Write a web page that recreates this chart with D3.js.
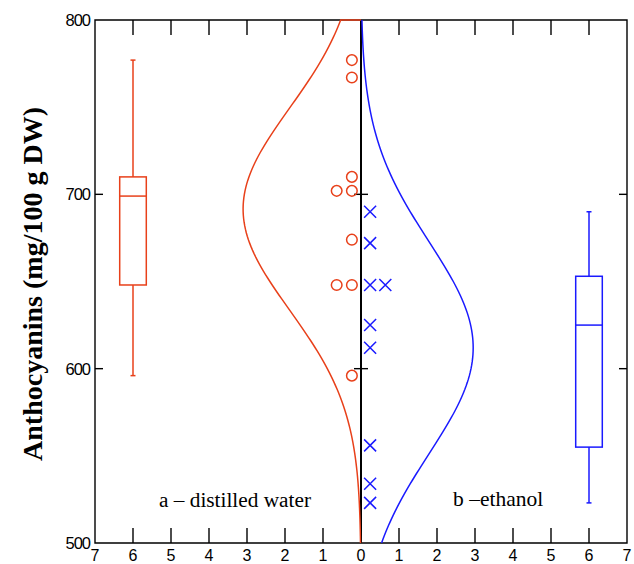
<!DOCTYPE html>
<html>
<head>
<meta charset="utf-8">
<script src="https://cdn.jsdelivr.net/npm/d3@7"></script>
<style>
  body { margin: 0; background: #fff; }
  svg { display: block; }
</style>
</head>
<body>
<svg class="chart" width="634" height="564"></svg>
<script>
// observed values (mg/100 g DW)
const waterValues = [777, 767, 710, 702, 702, 674, 648, 648, 596]
const ethanolValues = [690, 672, 648, 648, 625, 612, 556, 534, 523]

// box stats: [min, q1, median, q3, max]
const waterBox = [596, 648, 699, 710, 777]
const ethanolBox = [523, 555, 625, 653, 690]

const xTickValues = [-7, -6, -5, -4, -3, -2, -1, 0, 1, 2, 3, 4, 5, 6, 7]
const yTickValues = [500, 600, 700, 800]

const red = '#e8401a'
const blue = '#1a1aff'

const margin = { left: 95, right: 7, top: 20, bottom: 21 }
const width = 634
const height = 564

const x = d3.scaleLinear().domain([-7, 7]).range([margin.left, width - margin.right])
const y = d3.scaleLinear().domain([500, 800]).range([height - margin.bottom, margin.top])

const svg = d3.select('.chart')

/**
 * Fitted normal curve, scaled as counts per 50-unit bin
 *
 * @param {number[]} values the observations
 * @returns {number[][]} [value, height] pairs
 */
function normalCurve (values) {
  const mean = d3.mean(values)
  const sd = d3.deviation(values)
  const k = values.length * 50 / (sd * Math.sqrt(2 * Math.PI))
  return d3.range(500, 800.5, 2).map(function (v) {
    return [v, k * Math.exp(-0.5 * ((v - mean) / sd) ** 2)]
  })
}

// axes frame
const frame = svg.append('g').attr('stroke', 'black').attr('stroke-width', 1.4).attr('fill', 'none')
frame.append('path')
  .attr('d', `M${x(-7)},${y(800)}H${x(7)}V${y(500)}H${x(-7)}Z`)
frame.append('line')
  .attr('x1', x(0)).attr('x2', x(0))
  .attr('y1', y(800)).attr('y2', y(500))
  .attr('stroke-width', 2)

// x ticks, inward from top and bottom
const inner = xTickValues.filter(d => Math.abs(d) < 7 && d !== 0)
frame.selectAll('.xt-top').data(inner).enter().append('line')
  .attr('x1', d => x(d)).attr('x2', d => x(d))
  .attr('y1', y(800)).attr('y2', y(800) + 15)
frame.selectAll('.xt-bot').data(inner).enter().append('line')
  .attr('x1', d => x(d)).attr('x2', d => x(d))
  .attr('y1', y(500)).attr('y2', y(500) - 15)

// y ticks: left, right and across the centre line
const yInner = [600, 700]
frame.selectAll('.yt-l').data(yInner).enter().append('line')
  .attr('x1', x(-7)).attr('x2', x(-7) + 8)
  .attr('y1', d => y(d)).attr('y2', d => y(d))
frame.selectAll('.yt-r').data(yInner).enter().append('line')
  .attr('x1', x(7)).attr('x2', x(7) - 8)
  .attr('y1', d => y(d)).attr('y2', d => y(d))
frame.selectAll('.yt-c').data(yInner).enter().append('line')
  .attr('x1', x(0) - 7).attr('x2', x(0) + 7)
  .attr('y1', d => y(d)).attr('y2', d => y(d))

// curves
const waterCurve = normalCurve(waterValues)
waterCurve.push([800, 0])
svg.append('path')
  .datum(waterCurve)
  .attr('fill', 'none')
  .attr('stroke', red)
  .attr('stroke-width', 1.5)
  .attr('d', d3.line().x(d => x(-d[1])).y(d => y(d[0])))

svg.append('path')
  .datum(normalCurve(ethanolValues))
  .attr('fill', 'none')
  .attr('stroke', blue)
  .attr('stroke-width', 1.5)
  .attr('d', d3.line().x(d => x(d[1])).y(d => y(d[0])))

// tick labels
svg.append('g').selectAll('text').data(xTickValues).enter().append('text')
  .attr('x', d => x(d))
  .attr('y', height - 3)
  .attr('text-anchor', 'middle')
  .attr('font-family', 'Liberation Sans, Arial, sans-serif')
  .attr('font-size', 16)
  .text(d => Math.abs(d))

svg.append('g').selectAll('text').data(yTickValues).enter().append('text')
  .attr('x', x(-7) - 5)
  .attr('y', d => y(d) + 6)
  .attr('text-anchor', 'end')
  .attr('font-family', 'Liberation Sans, Arial, sans-serif')
  .attr('font-size', 16.5)
  .attr('letter-spacing', -1)
  .text(d => d)

svg.append('text')
  .attr('transform', 'translate(42,284) rotate(-90)')
  .attr('text-anchor', 'middle')
  .attr('font-family', 'Liberation Serif, Times New Roman, serif')
  .attr('font-weight', 'bold')
  .attr('font-size', 28)
  .text('Anthocyanins (mg/100 g DW)')

svg.append('text')
  .attr('x', 159).attr('y', 507)
  .attr('font-family', 'Liberation Serif, Times New Roman, serif')
  .attr('font-size', 21.3)
  .text('a – distilled water')

svg.append('text')
  .attr('x', 453).attr('y', 506)
  .attr('font-family', 'Liberation Serif, Times New Roman, serif')
  .attr('font-size', 21.5)
  .text('b –ethanol')

/**
 * Side offset for repeated values so points sit next to each other
 *
 * @param {number[]} values the observations
 * @returns {object[]} value and rank among equals
 */
function dodge (values) {
  const seen = {}
  return values.map(function (v) {
    seen[v] = (seen[v] || 0) + 1
    return { v: v, k: seen[v] - 1 }
  })
}

// points
svg.append('g').selectAll('circle')
  .data(dodge(waterValues))
  .enter()
  .append('circle')
  .attr('cx', d => x(-0.24 - d.k * 0.4))
  .attr('cy', d => y(d.v))
  .attr('r', 5.3)
  .attr('fill', 'none')
  .attr('stroke', red)
  .attr('stroke-width', 1.5)

svg.append('g').selectAll('path')
  .data(dodge(ethanolValues))
  .enter()
  .append('path')
  .attr('d', function (d) {
    const cx = x(0.24 + d.k * 0.4)
    const cy = y(d.v)
    const s = 6
    return `M${cx - s},${cy - s}L${cx + s},${cy + s}M${cx - s},${cy + s}L${cx + s},${cy - s}`
  })
  .attr('stroke', blue)
  .attr('stroke-width', 1.5)

/**
 * Draws a box with whiskers
 *
 * @param {number[]} stats [min, q1, median, q3, max]
 * @param {number} pos centre on the x scale
 * @param {string} color stroke colour
 */
function drawBox (stats, pos, color) {
  const g = svg.append('g').attr('stroke', color).attr('stroke-width', 1.5).attr('fill', 'none')
  const x0 = x(pos - 0.35)
  const x1 = x(pos + 0.35)
  const cx = x(pos)
  g.append('line').attr('x1', cx).attr('x2', cx).attr('y1', y(stats[0])).attr('y2', y(stats[1]))
  g.append('line').attr('x1', cx).attr('x2', cx).attr('y1', y(stats[3])).attr('y2', y(stats[4]))
  g.selectAll('.cap').data([stats[0], stats[4]]).enter().append('line')
    .attr('x1', cx - 2.5).attr('x2', cx + 2.5)
    .attr('y1', d => y(d)).attr('y2', d => y(d))
  g.append('rect')
    .attr('x', x0).attr('width', x1 - x0)
    .attr('y', y(stats[3])).attr('height', y(stats[1]) - y(stats[3]))
  g.append('line').attr('x1', x0).attr('x2', x1).attr('y1', y(stats[2])).attr('y2', y(stats[2]))
}

drawBox(waterBox, -6, red)
drawBox(ethanolBox, 6, blue)
</script>
</body>
</html>
